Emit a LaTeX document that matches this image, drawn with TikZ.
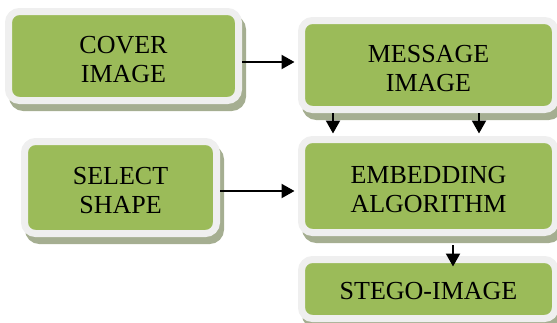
\documentclass[tikz,border=0pt]{standalone}
\usepackage{fontspec}
\setmainfont{Liberation Serif}
\usetikzlibrary{arrows.meta}
\definecolor{boxgreen}{RGB}{155,187,89}
\definecolor{boxrim}{RGB}{239,239,239}
\definecolor{boxshadow}{RGB}{165,174,145}
\tikzset{
  flowbox/.style={
    draw=boxrim, fill=boxgreen, line width=7pt, rounded corners=11pt,
    inner sep=0pt,
    preaction={draw=boxshadow, fill=boxshadow, line width=7pt,
      transform canvas={xshift=4pt, yshift=-7pt}}
  },
  boxtext/.style={inner sep=0pt, align=center, font=\fontsize{26}{29}\selectfont},
  arr/.style={line width=2.2pt, -{Triangle[length=13pt,width=14pt]}}
}
\begin{document}
\begin{tikzpicture}[x=1pt, y=-1pt]
\useasboundingbox (0,0) rectangle (557,322);
\node[flowbox, minimum width=230pt, minimum height=89pt] (cover) at (123.5,56) {};
\node[flowbox, minimum width=254pt, minimum height=89pt] (message) at (428.5,65) {};
\node[flowbox, minimum width=192pt, minimum height=92pt] (select) at (120.5,187.5) {};
\node[flowbox, minimum width=254pt, minimum height=93pt] (embed) at (428.5,186) {};
\node[flowbox, minimum width=254pt, minimum height=59pt] (stego) at (428.5,289) {};
\node[boxtext] (coverT) at ([yshift=-4pt]cover.center) {COVER\\IMAGE};
\node[boxtext] (messageT) at ([yshift=-4pt]message.center) {MESSAGE\\IMAGE};
\node[boxtext] (selectT) at ([yshift=-3pt]select.center) {SELECT\\SHAPE};
\node[boxtext] (embedT) at ([yshift=-4pt]embed.center) {EMBEDDING\\ALGORITHM};
\node[boxtext] (stegoT) at ([yshift=-2.5pt]stego.center) {STEGO-IMAGE};
\draw[arr, shorten >=3.5pt] (cover.east |- 0,62) -- (message.west |- 0,62);
\draw[arr, shorten >=2.5pt] (message.south -| 333,0) -- (embed.north -| 333,0);
\draw[arr, shorten >=2.5pt] (message.south -| 479,0) -- (embed.north -| 479,0);
\draw[arr, shorten >=3.5pt] (select.east |- 0,191) -- (embed.west |- 0,191);
\draw[arr, shorten <=9pt, shorten >=-10.5pt] (embed.south -| 453,0) -- (stego.north -| 453,0);
\end{tikzpicture}
\end{document}
